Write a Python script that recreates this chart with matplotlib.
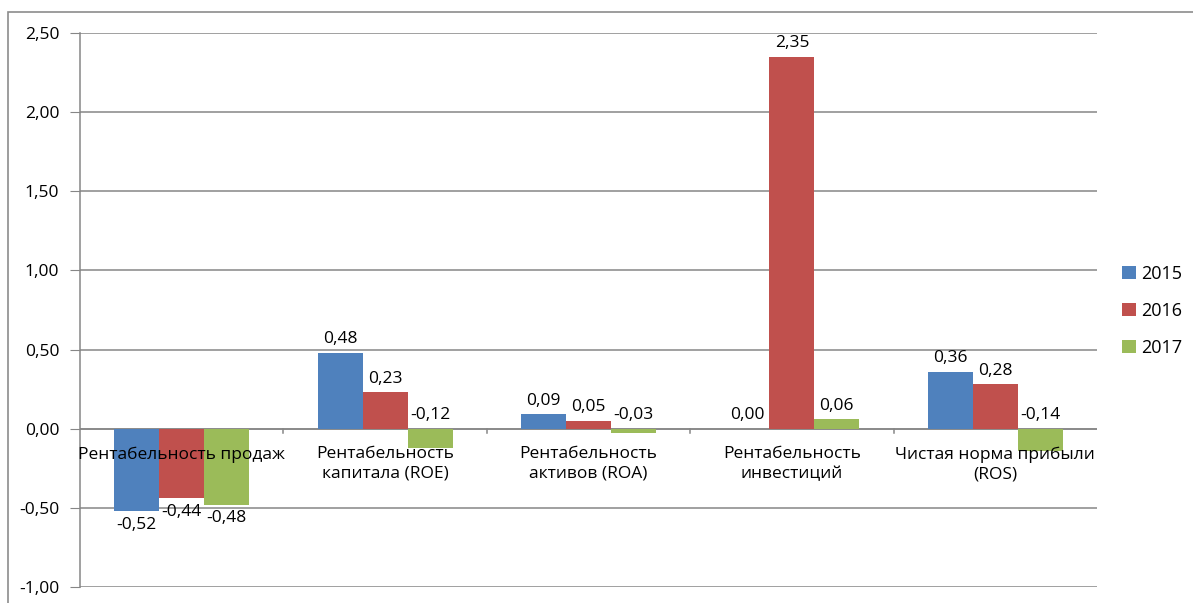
import numpy as np
import matplotlib.pyplot as plt
from matplotlib.patches import Rectangle
from matplotlib.ticker import FuncFormatter

categories = ['Рентабельность продаж', 'Рентабельность\nкапитала (ROE)',
              'Рентабельность\nактивов (ROA)', 'Рентабельность\nинвестиций',
              'Чистая норма прибыли\n(ROS)']
years = ['2015', '2016', '2017']
v2015 = [-0.52, 0.48, 0.09, 0.00, 0.36]
v2016 = [-0.44, 0.23, 0.05, 2.35, 0.28]
v2017 = [-0.48, -0.12, -0.03, 0.06, -0.14]
colors = ['#4F81BD', '#C0504D', '#9BBB59']

plt.rcParams['font.family'] = ['Open Sans', 'DejaVu Sans']

fig = plt.figure(figsize=(11.93, 6.03), dpi=100)
ax = fig.add_axes([80 / 1193, 1 - 587 / 603, (1097 - 80) / 1193, (587 - 33) / 603])

# outer chart frame
fig.patches.append(Rectangle((8 / 1193, -0.05), 1.2, 1 - 12 / 603 + 0.05,
                             transform=fig.transFigure, fill=False,
                             edgecolor='#8c8c8c', linewidth=1.2))

x = np.arange(len(categories))
w = 0.221
grid_c = '#868686'
fs = 12.5

for i, (vals, yr, c) in enumerate(zip([v2015, v2016, v2017], years, colors)):
    pos = x + (i - 1) * w
    ax.bar(pos, vals, width=w, color=c, label=yr, zorder=3)
    for px, v in zip(pos, vals):
        txt = f'{v:.2f}'.replace('.', ',')
        if v < -0.2:
            ax.text(px, v - 0.035, txt, ha='center', va='top', fontsize=fs, zorder=4)
        elif v < 0:
            ax.text(px, 0.035, txt, ha='center', va='bottom', fontsize=fs, zorder=4)
        else:
            ax.text(px, v + 0.035, txt, ha='center', va='bottom', fontsize=fs, zorder=4)

ax.set_xlim(-0.5, len(categories) - 0.5)
ax.set_ylim(-1.0, 2.5)
ax.set_yticks(np.arange(-1.0, 2.51, 0.5))
ax.yaxis.set_major_formatter(FuncFormatter(lambda v, p: f'{v:.2f}'.replace('.', ',')))
ax.tick_params(axis='y', length=7, color=grid_c, labelsize=fs, pad=8)
ax.grid(axis='y', color=grid_c, linewidth=1.1, zorder=0)
ax.set_xticks([])

for s in ['top', 'right', 'bottom']:
    ax.spines[s].set_visible(False)
ax.spines['left'].set_color(grid_c)
ax.spines['left'].set_linewidth(1.1)

# x axis at zero with boundary ticks
ax.axhline(0, color=grid_c, linewidth=1.1, zorder=2)
for b in np.arange(0.5, len(categories) - 0.5, 1):
    ax.plot([b, b], [0, -0.03], color=grid_c, linewidth=1.1, zorder=2)

for xi, cat in zip(x, categories):
    ax.text(xi, -0.11, cat, ha='center', va='top', fontsize=fs,
            linespacing=1.3, zorder=5)

ax.legend(loc='center left', bbox_to_anchor=(1.009, 0.498), frameon=False,
          fontsize=13, handlelength=0.75, handleheight=0.75, handletextpad=0.3,
          labelspacing=1.05)

fig.savefig('out.png', dpi=100)
